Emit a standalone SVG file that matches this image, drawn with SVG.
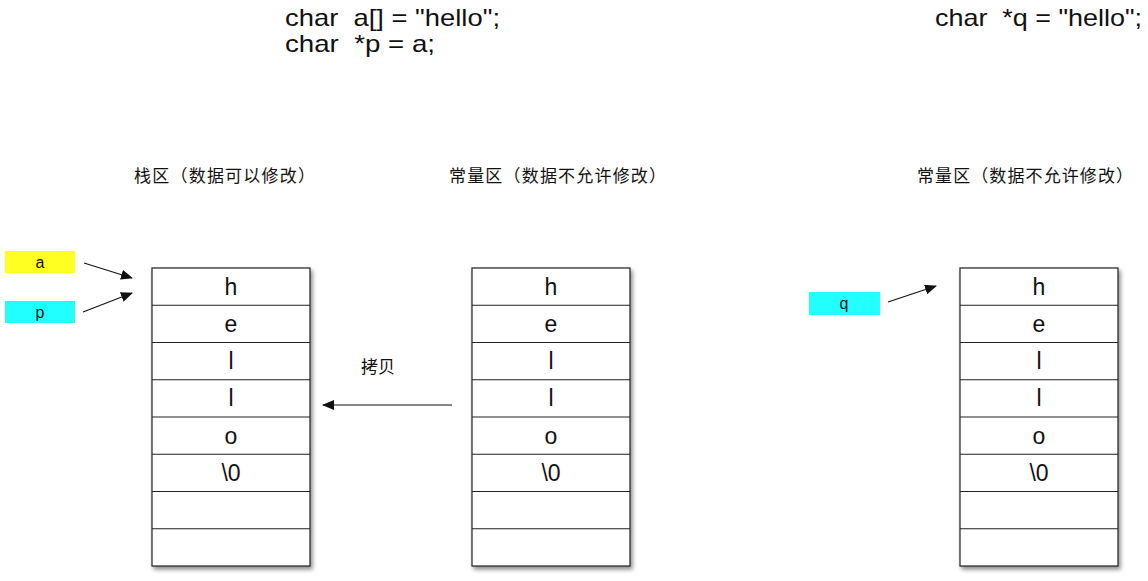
<svg xmlns="http://www.w3.org/2000/svg" width="1148" height="581" viewBox="0 0 1148 581">
<defs>
<style>
.code{font-family:"Liberation Sans",Arial,sans-serif;font-size:24px;fill:#111;white-space:pre}
.hdr{font-family:"Noto Sans CJK SC","Noto Sans",sans-serif;font-size:17px;fill:#111}
.cell{fill:#fff;stroke:#222;stroke-width:1.2}
.ch{font-family:"Liberation Sans",Arial,sans-serif;font-size:23px;fill:#111;text-anchor:middle}
.lbl{font-family:"Liberation Sans",Arial,sans-serif;font-size:16px;fill:#111;text-anchor:middle}
.conn{stroke:#111;stroke-width:1.1;fill:none;marker-end:url(#ah)}
</style>
<marker id="ah" markerWidth="12" markerHeight="10" refX="11" refY="5" orient="auto" markerUnits="userSpaceOnUse">
<path d="M0,0 L12,5 L0,10 Z" fill="#111"/>
</marker>
<filter id="sh" x="-10%" y="-10%" width="130%" height="130%">
<feDropShadow dx="2" dy="3" stdDeviation="2" flood-color="#000" flood-opacity="0.45"/>
</filter>
<g id="table">
<rect x="0" y="0" width="158" height="298" class="cell" filter="url(#sh)"/>
<path d="M0,37.25H158M0,74.5H158M0,111.75H158M0,149H158M0,186.25H158M0,223.5H158M0,260.75H158" stroke="#222" stroke-width="1.2"/>
</g>
</defs>
<rect width="1148" height="581" fill="#fff"/>

<g id="code">
<text class="code" x="285" y="26" textLength="215" lengthAdjust="spacingAndGlyphs" xml:space="preserve">char  a[] = "hello";</text>
<text class="code" x="285" y="52" textLength="150" lengthAdjust="spacingAndGlyphs" xml:space="preserve">char  *p = a;</text>
<text class="code" x="935" y="26" textLength="207" lengthAdjust="spacingAndGlyphs" xml:space="preserve">char  *q = "hello";</text>
</g>

<g id="headers">
<text class="hdr" x="134" y="182" textLength="181" lengthAdjust="spacing">栈区（数据可以修改）</text>
<text class="hdr" x="449" y="182" textLength="217" lengthAdjust="spacing">常量区（数据不允许修改）</text>
<text class="hdr" x="917" y="182" textLength="216" lengthAdjust="spacing">常量区（数据不允许修改）</text>
</g>

<g id="stack">
<use href="#table" x="152" y="268"/>
<text class="ch" x="231" y="295">h</text>
<text class="ch" x="231" y="332">e</text>
<text class="ch" x="231" y="369">l</text>
<text class="ch" x="231" y="406">l</text>
<text class="ch" x="231" y="444">o</text>
<text class="ch" x="231" y="481">\0</text>
</g>

<g id="const1">
<use href="#table" x="472" y="268"/>
<text class="ch" x="551" y="295">h</text>
<text class="ch" x="551" y="332">e</text>
<text class="ch" x="551" y="369">l</text>
<text class="ch" x="551" y="406">l</text>
<text class="ch" x="551" y="444">o</text>
<text class="ch" x="551" y="481">\0</text>
</g>

<g id="const2">
<use href="#table" x="960" y="268"/>
<text class="ch" x="1039" y="295">h</text>
<text class="ch" x="1039" y="332">e</text>
<text class="ch" x="1039" y="369">l</text>
<text class="ch" x="1039" y="406">l</text>
<text class="ch" x="1039" y="444">o</text>
<text class="ch" x="1039" y="481">\0</text>
</g>

<g id="var-a">
<rect x="5" y="251" width="70" height="22" fill="#ffff22"/>
<text class="lbl" x="40" y="268">a</text>
</g>
<g id="var-p">
<rect x="5" y="301" width="70" height="22" fill="#22ffff"/>
<text class="lbl" x="40" y="318">p</text>
</g>
<g id="var-q">
<rect x="809" y="292" width="71" height="23" fill="#22ffff"/>
<text class="lbl" x="844" y="309">q</text>
</g>

<g id="copy-label">
<text class="hdr" x="361" y="373">拷贝</text>
</g>

<g id="connectors">
<line class="conn" x1="84" y1="263" x2="132" y2="278"/>
<line class="conn" x1="83" y1="312" x2="132" y2="293"/>
<line class="conn" x1="888" y1="302" x2="936" y2="286"/>
<line class="conn" x1="452" y1="405" x2="323" y2="405"/>
</g>
</svg>
